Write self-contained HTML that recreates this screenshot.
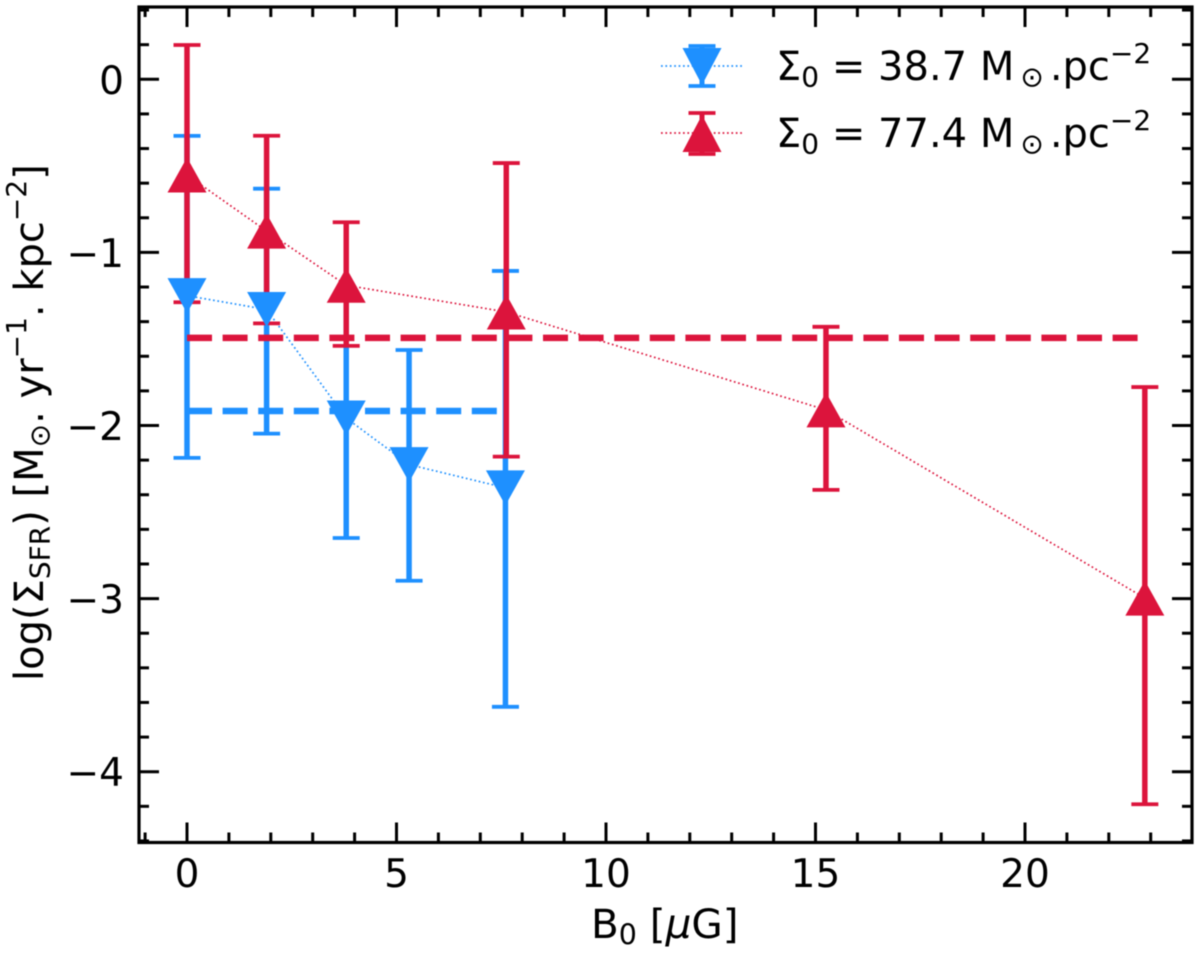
<!DOCTYPE html>
<html>
<head>
<meta charset="utf-8">
<title>SFR surface density vs magnetic field</title>
<style>
  html, body { margin: 0; padding: 0; background: #fff; }
  svg { display: block; filter: blur(0.5px); }
  text { font-family: "DejaVu Sans", "Liberation Sans", sans-serif; fill: #000; }
</style>
</head>
<body>
<svg id="chart" xmlns="http://www.w3.org/2000/svg" width="1200" height="954" viewBox="0 0 1200 954">
  <g id="ticks"></g>
  <g id="tick-labels" font-size="39"></g>
  <g id="err-blue"></g>
  <g id="line-blue"></g>
  <g id="err-red"></g>
  <g id="line-red"></g>
  <g id="mean-lines"></g>
  <g id="markers-blue"></g>
  <g id="markers-red"></g>

  <rect x="139" y="7" width="1053" height="835.5" fill="none" stroke="#000" stroke-width="3.2"/>

  <text x="591" y="938" font-size="40.5">B<tspan font-size="28.5" dy="6.5">0</tspan><tspan dy="-6.5"> [</tspan><tspan font-style="italic">μ</tspan>G]</text>
  <text transform="translate(43,681) rotate(-90)" font-size="40">log(Σ<tspan font-size="28" dy="6.5">SFR</tspan><tspan dy="-6.5">) [M</tspan><tspan font-size="28" dy="6.5">⊙</tspan><tspan dy="-6.5">. yr</tspan><tspan font-size="28" dy="-17">−1</tspan><tspan dy="17">. kpc</tspan><tspan font-size="28" dy="-17">−2</tspan><tspan dy="17">]</tspan></text>

  <g>
    <g>
      <line x1="661" y1="66" x2="742" y2="66" stroke="#1e90ff" stroke-width="1.7" stroke-dasharray="1.7 2.7"/>
      <line x1="702" y1="46" x2="702" y2="86" stroke="#1e90ff" stroke-width="5"/>
      <line x1="688.5" y1="46" x2="715.5" y2="46" stroke="#1e90ff" stroke-width="3.8"/>
      <line x1="688.5" y1="86" x2="715.5" y2="86" stroke="#1e90ff" stroke-width="3.8"/>
      <polygon points="682.5,48 721.5,48 702,85" fill="#1e90ff"/>
      <text x="776" y="80" font-size="40">Σ<tspan font-size="28" dy="6.5">0</tspan><tspan dy="-6.5"> = 38.7 M</tspan><tspan font-size="28" dy="6.5" dx="6">⊙</tspan><tspan dy="-6.5" dx="6">.pc</tspan><tspan font-size="28" dy="-17">−2</tspan></text>
    </g>
    <g>
      <line x1="661" y1="133" x2="742" y2="133" stroke="#dc143c" stroke-width="1.7" stroke-dasharray="1.7 2.7"/>
      <line x1="702" y1="113" x2="702" y2="154" stroke="#dc143c" stroke-width="5"/>
      <line x1="688.5" y1="113" x2="715.5" y2="113" stroke="#dc143c" stroke-width="3.8"/>
      <line x1="688.5" y1="154" x2="715.5" y2="154" stroke="#dc143c" stroke-width="3.8"/>
      <polygon points="702,115 721.5,152 682.5,152" fill="#dc143c"/>
      <text x="776" y="147" font-size="40">Σ<tspan font-size="28" dy="6.5">0</tspan><tspan dy="-6.5"> = 77.4 M</tspan><tspan font-size="28" dy="6.5" dx="6">⊙</tspan><tspan dy="-6.5" dx="6">.pc</tspan><tspan font-size="28" dy="-17">−2</tspan></text>
    </g>
  </g>
</svg>
<script>
// Data
const blueField = [0, 1.9, 3.8, 5.3, 7.6];
const blueValues = [-1.25, -1.33, -1.957, -2.226, -2.36];
const blueUpper = [-0.327, -0.632, -1.26, -1.564, -1.107];
const blueLower = [-2.187, -2.047, -2.65, -2.897, -3.625];
const blueMean = -1.916;

const redField = [0, 1.9, 3.8, 7.62, 15.25, 22.86];
const redValues = [-0.553, -0.877, -1.19, -1.344, -1.91, -2.997];
const redUpper = [0.198, -0.326, -0.826, -0.484, -1.43, -1.778];
const redLower = [-1.288, -1.41, -1.54, -2.18, -2.372, -4.188];
const redMean = -1.494;

const xTickValues = [0, 5, 10, 15, 20];
const xTickLabels = ['0', '5', '10', '15', '20'];
const yTickValues = [0, -1, -2, -3, -4];
const yTickLabels = ['0', '−1', '−2', '−3', '−4'];

const NS = 'http://www.w3.org/2000/svg';
const BLUE = '#1e90ff';
const RED = '#dc143c';

// Axis functions
function xPos(v) { return 187 + 41.9 * v; }
function yPos(v) { return 79.3 - 173.1 * v; }

function seg(parent, x1, y1, x2, y2, color, width) {
  const el = document.createElementNS(NS, 'line');
  el.setAttribute('x1', x1);
  el.setAttribute('y1', y1);
  el.setAttribute('x2', x2);
  el.setAttribute('y2', y2);
  el.setAttribute('stroke', color);
  el.setAttribute('stroke-width', width);
  parent.appendChild(el);
  return el;
}

// Ticks
const tickGroup = document.getElementById('ticks');
const labelGroup = document.getElementById('tick-labels');
const LEFT = 139, RIGHT = 1192, TOP = 7, BOTTOM = 842.5;

for (let i = -1; i <= 23; i++) {
  const isMajor = i % 5 === 0;
  const len = isMajor ? 20 : 10;
  const px = xPos(i);
  const b = seg(tickGroup, px, BOTTOM, px, BOTTOM - len, '#000', 3);
  
  
  const t = seg(tickGroup, px, TOP, px, TOP + len, '#000', 3);
  
  
}
for (let i = -22; i <= 2; i++) {
  const isMajor = i % 5 === 0;
  const len = isMajor ? 20 : 10;
  const py = yPos(i * 0.2);
  const l = seg(tickGroup, LEFT, py, LEFT + len, py, '#000', 3);
  
  
  const r = seg(tickGroup, RIGHT, py, RIGHT - len, py, '#000', 3);
  
  
}

xTickValues.forEach(function (v, i) {
  const el = document.createElementNS(NS, 'text');
  
  
  el.setAttribute('x', xPos(v));
  el.setAttribute('y', 887);
  el.setAttribute('text-anchor', 'middle');
  el.textContent = xTickLabels[i];
  labelGroup.appendChild(el);
});
yTickValues.forEach(function (v, i) {
  const el = document.createElementNS(NS, 'text');
  
  
  el.setAttribute('x', 124);
  el.setAttribute('y', yPos(v) + 14.5);
  el.setAttribute('text-anchor', 'end');
  el.textContent = yTickLabels[i];
  labelGroup.appendChild(el);
});

// Series
function drawErrors(groupId, fields, upper, lower, color) {
  const g = document.getElementById(groupId);
  fields.forEach(function (f, i) {
    const px = xPos(f);
    const stem = seg(g, px, yPos(upper[i]), px, yPos(lower[i]), color, 5.5);
    
    
    const capTop = seg(g, px - 13.5, yPos(upper[i]), px + 13.5, yPos(upper[i]), color, 3.8);
    
    
    const capBottom = seg(g, px - 13.5, yPos(lower[i]), px + 13.5, yPos(lower[i]), color, 3.8);
    
    
  });
}

function drawLine(groupId, fields, values, color) {
  const g = document.getElementById(groupId);
  const el = document.createElementNS(NS, 'polyline');
  
  
  el.setAttribute('points', fields.map(function (f, i) { return xPos(f) + ',' + yPos(values[i]); }).join(' '));
  el.setAttribute('fill', 'none');
  el.setAttribute('stroke', color);
  el.setAttribute('stroke-width', 1.7);
  el.setAttribute('stroke-dasharray', '1.7 2.7');
  g.appendChild(el);
}

function drawMarkers(groupId, fields, values, color, pointsDown) {
  const g = document.getElementById(groupId);
  const hw = 19.5, hh = 17.5;
  fields.forEach(function (f, i) {
    const px = xPos(f), py = yPos(values[i]);
    const dir = pointsDown ? 1 : -1;
    const el = document.createElementNS(NS, 'polygon');
    
    
    el.setAttribute('points', [
      px + ',' + (py + dir * hh),
      (px - hw) + ',' + (py - dir * hh),
      (px + hw) + ',' + (py - dir * hh)
    ].join(' '));
    el.setAttribute('fill', color);
    g.appendChild(el);
  });
}

function drawMean(value, fields, color, name) {
  const g = document.getElementById('mean-lines');
  const el = seg(g, xPos(fields[0]), yPos(value), xPos(fields[fields.length - 1]), yPos(value), color, 6.5);
  
  
  el.setAttribute('stroke-dasharray', '25 10.6');
}

drawErrors('err-blue', blueField, blueUpper, blueLower, BLUE);
drawLine('line-blue', blueField, blueValues, BLUE);
drawErrors('err-red', redField, redUpper, redLower, RED);
drawLine('line-red', redField, redValues, RED);
drawMean(blueMean, blueField, BLUE, 'mean-line-sigma-38-7');
drawMean(redMean, redField, RED, 'mean-line-sigma-77-4');
drawMarkers('markers-blue', blueField, blueValues, BLUE, true);
drawMarkers('markers-red', redField, redValues, RED, false);
</script>
</body>
</html>
